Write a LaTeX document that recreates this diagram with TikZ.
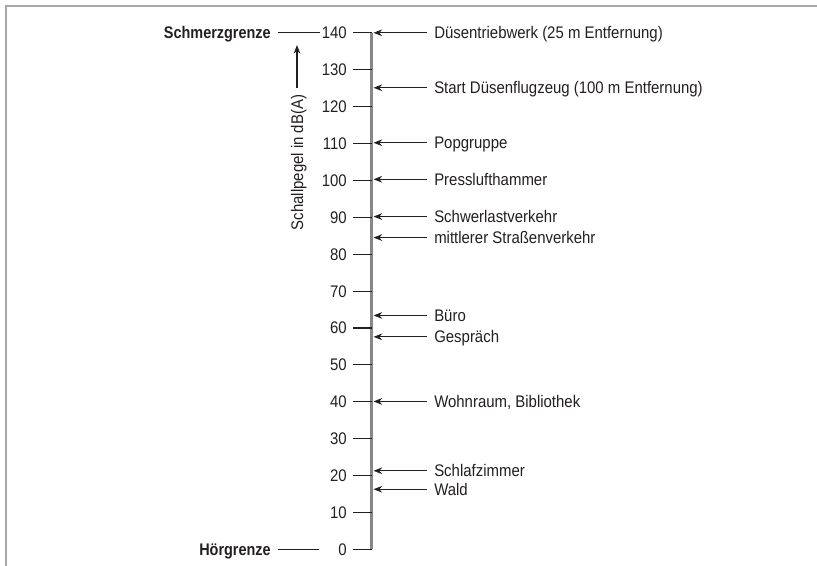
\documentclass[tikz,border=0pt]{standalone}
\usepackage{fontspec}
\setmainfont{Liberation Sans}[FakeStretch=0.89,BoldFeatures={FakeStretch=0.86}]
\usetikzlibrary{arrows.meta}
\definecolor{ink}{HTML}{231F20}
\definecolor{axisgray}{HTML}{878787}
\definecolor{framegray}{HTML}{A8A8A8}
\tikzset{
  lbl/.style={inner sep=0pt, text height=9pt, text depth=0pt, text=ink, font=\fontsize{12.6}{14}\selectfont},
  ticklbl/.style={lbl, anchor=east},
  srclbl/.style={lbl, anchor=west, inner xsep=5.25pt},
  limitlbl/.style={lbl, anchor=east, inner xsep=5.25pt, font=\fontsize{12.6}{14}\selectfont\bfseries},
  thin line/.style={draw=ink, line width=0.8pt},
  pointer/.style={thin line, -{Stealth[length=6.5pt,width=5pt]}},
  axisline/.style={draw=axisgray, line width=2.3pt},
  framel/.style={draw=framegray, line width=1.4pt}
}
\begin{document}
\begin{tikzpicture}[x=0.75pt,y=-0.75pt]
\useasboundingbox (0,0) rectangle (817,566);
% frame
\draw[framel] (817,6) -- (6,6) -- (6,566);
% axis
\coordinate (atop) at (371.5,{549.4-3.69*140});
\coordinate (abot) at (371.5,549.4);
\draw[axisline] (atop) -- (abot);
% ticks and tick labels
\foreach \v in {0,10,...,140} {
  \coordinate (a\v) at (371.5,{549.4-3.69*\v});
  \node[ticklbl] (tl\v) at (347,{549.4-3.69*\v}) {\v};
  \draw[thin line, shorten <=4.5pt] (tl\v.east) -- (a\v);
}
% limits
\node[limitlbl] (schmerz) at (278,{549.4-3.69*140}) {Schmerzgrenze};
\draw[thin line] (schmerz.east) -- ([xshift=-0.8pt]tl140.west);
\node[limitlbl] (hoer) at (278,549.4) {Hörgrenze};
\coordinate (hoerend) at (319,549.4);
\draw[thin line] (hoer.east) -- (hoerend);
% axis title
\node[lbl, rotate=90] (axlab) at (297,162.5) {Schallpegel in dB(A)};
\coordinate (axtip) at (297,45);
\draw[pointer, shorten <=5pt] (axlab.east) -- (axtip);
% sources
\foreach \v/\n/\t in {
  140/s1/{Düsentriebwerk (25 m Entfernung)},
  125.1/s2/{Start Düsenflugzeug (100 m Entfernung)},
  110.2/s3/{Popgruppe},
  100.3/s4/{Presslufthammer},
  90.2/s5/{Schwerlastverkehr},
  84.5/s6/{mittlerer Straßenverkehr},
  63.4/s7/{Büro},
  57.6/s8/{Gespräch},
  40.1/s9/{Wohnraum, Bibliothek},
  21.3/s10/{Schlafzimmer},
  16.3/s11/{Wald}} {
  \coordinate (p\n) at (373.5,{549.4-3.69*\v});
  \node[srclbl] (\n) at (427,{549.4-3.69*\v}) {\t};
  \draw[pointer] (\n.west) -- (p\n);
}
\end{tikzpicture}
\end{document}
